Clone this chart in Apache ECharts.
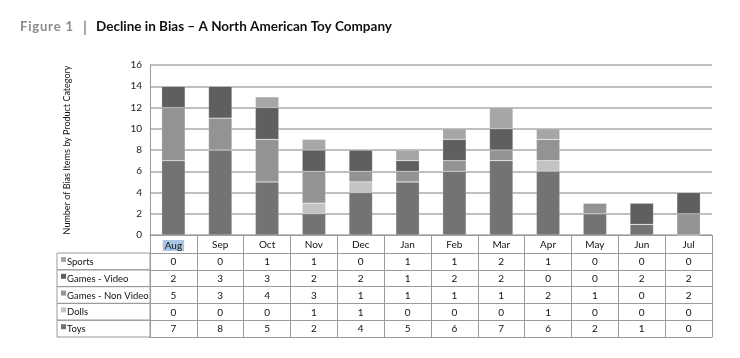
<!DOCTYPE html>
<html>
<head>
<meta charset="utf-8">
<script src="https://cdn.jsdelivr.net/npm/echarts@6/dist/echarts.min.js"></script>
<style>html,body{margin:0;padding:0;background:#fff}#c{width:740px;height:358px}</style>
</head>
<body>
<div id="c"></div>
<script>
const months = ['Aug','Sep','Oct','Nov','Dec','Jan','Feb','Mar','Apr','May','Jun','Jul'];
const toys         = [7,8,5,2,4,5,6,7,6,2,1,0];
const dolls        = [0,0,0,1,1,0,0,0,1,0,0,0];
const gamesNonVideo= [5,3,4,3,1,1,1,1,2,1,0,2];
const gamesVideo   = [2,3,3,2,2,1,2,2,0,0,2,2];
const sports       = [0,0,1,1,0,1,1,2,1,0,0,0];
const yTicks = [0,2,4,6,8,10,12,14,16];

const seriesDefs = [
  {name:'Toys', data:toys, color:'#737373'},
  {name:'Dolls', data:dolls, color:'#c3c3c3'},
  {name:'Games - Non Video', data:gamesNonVideo, color:'#939393'},
  {name:'Games - Video', data:gamesVideo, color:'#5f5f5f'},
  {name:'Sports', data:sports, color:'#a6a6a6'}
];
// table row order (top to bottom)
const tableRows = [seriesDefs[4], seriesDefs[3], seriesDefs[2], seriesDefs[1], seriesDefs[0]];

const FONT = 'Lato';
const gridLeft = 150, gridRight = 28, gridTop = 65, gridBottom = 123;
const headerH = 18, rowH = 16.8;
const lineColor = '#9a9a9a';

const xAxes = [{
  type:'category', data: months, position:'bottom', gridIndex:0,
  axisLine:{show:true, lineStyle:{color:lineColor, width:1}},
  axisTick:{show:true, interval:0, length:headerH, lineStyle:{color:lineColor}},
  axisLabel:{interval:0, margin:5, fontFamily:FONT, fontSize:10, color:'#111',
    formatter:(v,i)=> i===0 ? '{hl|'+v+'}' : v,
    rich:{hl:{backgroundColor:'#a8c6e4', padding:[1,2,0,2], fontFamily:FONT, fontSize:10, color:'#111'}}},
  splitLine:{show:false}
}];
tableRows.forEach((r,k)=>{
  xAxes.push({
    type:'category', data: r.data.map(String), position:'bottom', gridIndex:0,
    offset: headerH + k*rowH,
    axisLine:{show:true, lineStyle:{color:lineColor, width:1}},
    axisTick:{show:true, interval:0, length:rowH, lineStyle:{color:lineColor}},
    axisLabel:{interval:0, margin:4, fontFamily:FONT, fontSize:10, color:'#111'},
    splitLine:{show:false}
  });
});
xAxes.push({
  type:'category', data: months.map(()=>''), position:'bottom', gridIndex:0,
  offset: headerH + tableRows.length*rowH,
  axisLine:{show:true, lineStyle:{color:lineColor, width:1}},
  axisTick:{show:false}, axisLabel:{show:false}
});

const chart = echarts.init(document.getElementById('c'), null, {renderer:'canvas'});

const graphics = [];
const tblLeft = 57;
const tableTop = 358 - gridBottom + headerH;
tableRows.forEach((r,k)=>{
  const top = tableTop + k*rowH;
  graphics.push({type:'rect', shape:{x:tblLeft, y:top, width:gridLeft-tblLeft, height:rowH},
    style:{fill:'none', stroke:lineColor, lineWidth:1}});
  graphics.push({type:'rect', shape:{x:tblLeft+4, y:top+4, width:5, height:5}, style:{fill:r.color}});
  graphics.push({type:'text', x:tblLeft+10, y:top+rowH/2+0.5,
    style:{text:r.name, font:'9.5px '+FONT, fill:'#111', verticalAlign:'middle', textAlign:'left'}});
});
const H = '\u200A';
graphics.push({type:'text', x:20, y:27, style:{text:['F','i','g','u','r','e',' ','1'].join(H), font:'bold 13px '+FONT, fill:'#8a8a8a', verticalAlign:'middle'}});
graphics.push({type:'text', x:83, y:27, style:{text:'|', font:'bold 15px '+FONT, fill:'#8a8a8a', verticalAlign:'middle'}});
graphics.push({type:'text', x:96, y:27, style:{text:'Decline in Bias – A North American Toy Company', font:'bold 13.5px '+FONT, fill:'#111', verticalAlign:'middle'}});

chart.setOption({
  animation:false,
  backgroundColor:'#fff',
  grid:{left:gridLeft, right:gridRight, top:gridTop, bottom:gridBottom, containLabel:false},
  xAxis: xAxes,
  yAxis:{type:'value', min:0, max:16, interval:2,
    axisLine:{show:true, lineStyle:{color:lineColor}},
    axisTick:{show:false},
    axisLabel:{margin:8, fontFamily:FONT, fontSize:10, color:'#222', formatter:v=> yTicks.includes(v)? String(v):''},
    splitLine:{show:true, lineStyle:{color:'#aaaaaa', width:1.5}},
    name:'Number of Bias Items by Product Category', nameLocation:'middle', nameGap:78,
    nameTextStyle:{fontFamily:FONT, fontSize:9, color:'#111'}
  },
  series: seriesDefs.map(s=>({
    name:s.name, type:'bar', stack:'total', xAxisIndex:0, data:s.data, barWidth:'50%',
    itemStyle:{color:s.color, borderColor:'rgba(255,255,255,0.35)', borderWidth:0.5}
  })),
  graphic: graphics
});
</script>
</body>
</html>
